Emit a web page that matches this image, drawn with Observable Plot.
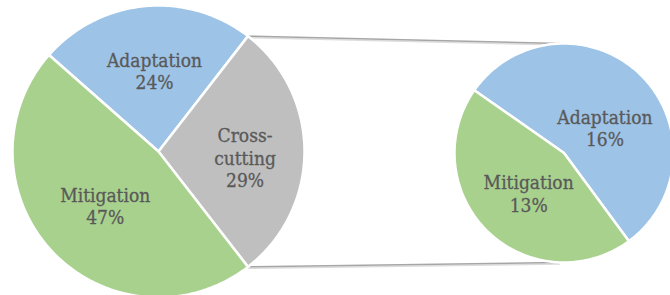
<!DOCTYPE html>
<html>
<head>
<meta charset="utf-8">
<script src="https://cdn.jsdelivr.net/npm/d3@7"></script>
<script src="https://cdn.jsdelivr.net/npm/@observablehq/plot@0.6"></script>
<style>
  html, body { margin: 0; padding: 0; background: #fff; }
  #chart svg { display: block; }
</style>
</head>
<body>
<div id="chart"></div>
<script>
// ---- data ----
const categories = ["Adaptation", "Cross-cutting", "Mitigation"];
const shares = [24, 29, 47];
const categoryLabels = ["Adaptation", "Cross-\ncutting", "Mitigation"];
const splitCategory = "Cross-cutting";
const splitCategories = ["Adaptation", "Mitigation"];
const splitShares = [16, 13];
const splitLabels = ["Adaptation", "Mitigation"];

// ---- layout / style ----
const W = 670, H = 295;
const colorDomain = ["Adaptation", "Cross-cutting", "Mitigation"];
const colorRange = ["#9DC3E6", "#BFBFBF", "#A9D18E"];
const mainPie = {cx: 158, cy: 151, r: 146};
const subPie = {cx: 563.5, cy: 152.5, r: 109.5, start: -55};
const mainLabelFrac = [0.555, 0.594, 0.52];
const mainLabelNudge = [2.6, 4, -2.2];
const subLabelFrac = [0.44, 0.49];
const subLabelNudge = [13.8, -3.1];
const rad = Math.PI / 180;

function polar(p, a, r) { return [p.cx + r * Math.sin(a), p.cy - r * Math.cos(a)]; }

// main pie angles: split slice centred at 3 o'clock
const total = d3.sum(shares);
const splitIdx = categories.indexOf(splitCategory);
const before = d3.sum(shares.slice(0, splitIdx));
const mainStart = Math.PI / 2 - (before / total) * 2 * Math.PI - (shares[splitIdx] / total) * Math.PI;
const mainArcs = d3.pie().sort(null).startAngle(mainStart).endAngle(mainStart + 2 * Math.PI)(shares);
const subArcs = d3.pie().sort(null).startAngle(subPie.start * rad).endAngle(subPie.start * rad + 2 * Math.PI)(splitShares);

function slicePoints(pie, arcs, cats, tag) {
  const pts = [];
  arcs.forEach((a, i) => {
    const key = tag + i;
    pts.push({key, cat: cats[i], x: pie.cx, y: pie.cy});
    const n = Math.max(2, Math.ceil((a.endAngle - a.startAngle) / rad));
    for (let k = 0; k <= n; k++) {
      const t = a.startAngle + (a.endAngle - a.startAngle) * k / n;
      const [x, y] = polar(pie, t, pie.r);
      pts.push({key, cat: cats[i], x, y});
    }
  });
  return pts;
}
const mainPts = slicePoints(mainPie, mainArcs, categories, "m");
const subPts = slicePoints(subPie, subArcs, splitCategories, "s");

function labelData(pie, arcs, labels, values, fracs, nudges) {
  return arcs.map((a, i) => {
    const mid = (a.startAngle + a.endAngle) / 2 + nudges[i] * rad;
    const [x, y] = polar(pie, mid, pie.r * fracs[i]);
    return {x, y, text: labels[i] + "\n" + values[i] + "%"};
  });
}
const labels = [
  ...labelData(mainPie, mainArcs, categoryLabels, shares, mainLabelFrac, mainLabelNudge),
  ...labelData(subPie, subArcs, splitLabels, splitShares, subLabelFrac, subLabelNudge)
];

// connector lines from split slice edges to top/bottom of second pie
const sa = mainArcs[splitIdx];
const [tx0, ty0] = polar(mainPie, sa.startAngle, mainPie.r);
const [bx0, by0] = polar(mainPie, sa.endAngle, mainPie.r);
const connectors = [
  {x1: tx0, y1: ty0, x2: subPie.cx - 4, y2: subPie.cy - subPie.r},
  {x1: bx0, y1: by0, x2: subPie.cx - 4, y2: subPie.cy + subPie.r}
];

const chart = Plot.plot({
  width: W,
  height: H,
  margin: 0,
  style: {background: "white", overflow: "hidden"},
  x: {domain: [0, W], range: [0, W], axis: null},
  y: {domain: [0, H], range: [0, H], axis: null},
  color: {domain: colorDomain, range: colorRange},
  marks: [
    Plot.link(connectors, {x1: "x1", y1: "y1", x2: "x2", y2: "y2", stroke: "#dcdcdc", strokeWidth: 1.5, dy: 1.5}),
    Plot.link(connectors, {x1: "x1", y1: "y1", x2: "x2", y2: "y2", stroke: "#a6a6a6", strokeWidth: 1.5}),
    Plot.line(mainPts, {x: "x", y: "y", z: "key", fill: "cat", stroke: "white", strokeWidth: 2.5, strokeLinejoin: "round", curve: "linear-closed"}),
    Plot.line(subPts, {x: "x", y: "y", z: "key", fill: "cat", stroke: "white", strokeWidth: 2.5, strokeLinejoin: "round", curve: "linear-closed"}),
    Plot.text(labels, {x: "x", y: "y", text: "text", fill: "#595959", stroke: "#595959", strokeWidth: 0.3,
      fontSize: 19, lineHeight: 1.18,
      fontFamily: "'DejaVu Serif Condensed', 'DejaVu Serif', serif", textAnchor: "middle", lineAnchor: "middle"})
  ]
});
document.getElementById("chart").appendChild(chart);
</script>
</body>
</html>
